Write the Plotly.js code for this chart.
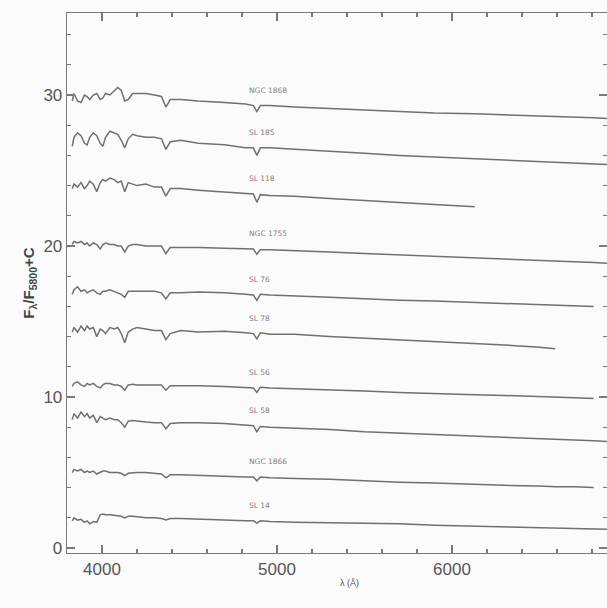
<!DOCTYPE html>
<html>
<head>
<meta charset="utf-8">
<script src="https://cdn.plot.ly/plotly-3.0.1.min.js"></script>
<style>html,body{margin:0;padding:0;background:#fbfbfb;}#chart{width:607px;height:608px;}</style>
</head>
<body>
<div id="chart"></div>
<script>
// Wavelength grid (Angstrom) shared by all spectra
const wavelength = [3830, 3840, 3860, 3880, 3900, 3915, 3930, 3950, 3970, 3990, 4005, 4020, 4045, 4070, 4090, 4110, 4130, 4150, 4175, 4200, 4250, 4300, 4340, 4365, 4390, 4450, 4550, 4700, 4820, 4865, 4885, 4905, 4960, 5100, 5300, 5500, 5700, 5900, 6130, 6300, 6500, 6590, 6700, 6810, 6886];

const clusterNames = ["NGC 1868", "SL 185", "SL 118", "NGC 1755", "SL 76", "SL 78", "SL 56", "SL 58", "NGC 1866", "SL 14"];

const fluxNGC1868 = [29.6, 30.1, 29.6, 29.5, 30.0, 29.9, 29.7, 30.0, 30.1, 29.7, 29.8, 30.1, 30.0, 30.3, 30.5, 30.3, 29.6, 29.7, 30.1, 30.1, 30.1, 30.0, 29.9, 29.2, 29.7, 29.7, 29.6, 29.5, 29.4, 29.3, 28.9, 29.3, 29.3, 29.2, 29.1, 29.0, 28.9, 28.8, 28.75, 28.7, 28.6, 28.6, 28.55, 28.5, 28.45];
const fluxSL185 = [26.6, 27.2, 27.5, 27.3, 26.8, 26.7, 27.2, 27.5, 27.3, 26.8, 26.6, 27.2, 27.6, 27.5, 27.4, 27.0, 26.5, 27.1, 27.4, 27.3, 27.2, 27.2, 27.1, 26.4, 26.9, 27.0, 26.8, 26.7, 26.5, 26.5, 26.0, 26.5, 26.5, 26.4, 26.3, 26.15, 26.0, 25.9, 25.8, 25.7, 25.6, 25.55, 25.5, 25.45, 25.4];
const fluxSL118 = [23.8, 24.1, 23.9, 24.2, 23.8, 24.0, 24.3, 24.1, 23.6, 24.2, 24.4, 24.3, 24.5, 24.4, 24.2, 24.3, 23.6, 24.2, 24.1, 24.0, 24.1, 23.9, 23.9, 23.3, 23.8, 23.8, 23.7, 23.6, 23.5, 23.45, 22.9, 23.4, 23.35, 23.3, 23.15, 23.0, 22.9, 22.75, 22.6, null, null, null, null, null, null];
const fluxNGC1755 = [20.1, 20.3, 20.2, 20.3, 20.1, 20.2, 20.0, 20.2, 20.1, 19.8, 20.1, 20.2, 20.1, 20.1, 20.0, 20.0, 19.6, 20.0, 20.1, 20.1, 20.0, 20.0, 20.0, 19.5, 19.9, 19.9, 19.9, 19.85, 19.8, 19.8, 19.45, 19.75, 19.75, 19.7, 19.6, 19.5, 19.4, 19.3, 19.2, 19.15, 19.05, 19.0, 18.95, 18.9, 18.85];
const fluxSL76 = [16.8, 17.1, 17.3, 17.0, 17.1, 16.9, 17.0, 17.1, 16.9, 16.8, 17.0, 17.0, 17.1, 17.0, 16.9, 16.8, 16.6, 17.0, 17.0, 17.0, 17.0, 17.0, 16.9, 16.5, 16.9, 16.9, 16.95, 16.9, 16.8, 16.75, 16.4, 16.8, 16.75, 16.7, 16.6, 16.5, 16.4, 16.35, 16.25, 16.2, 16.1, 16.1, 16.05, 16.0, null];
const fluxSL78 = [14.3, 14.6, 14.3, 14.7, 14.4, 14.7, 14.5, 14.6, 14.0, 14.5, 14.4, 14.2, 14.6, 14.5, 14.6, 14.2, 13.6, 14.3, 14.5, 14.6, 14.5, 14.4, 14.4, 13.8, 14.2, 14.4, 14.3, 14.35, 14.25, 14.2, 13.85, 14.25, 14.15, 14.15, 14.0, 13.9, 13.75, 13.7, 13.55, 13.45, 13.3, 13.2, null, null, null];
const fluxSL56 = [10.7, 10.9, 11.0, 10.8, 10.7, 10.9, 10.8, 10.9, 10.7, 10.6, 10.8, 10.9, 10.9, 10.8, 10.8, 10.7, 10.45, 10.8, 10.85, 10.8, 10.8, 10.8, 10.8, 10.45, 10.75, 10.75, 10.75, 10.7, 10.65, 10.6, 10.3, 10.65, 10.6, 10.55, 10.5, 10.4, 10.3, 10.25, 10.15, 10.1, 10.0, 10.0, 9.95, 9.9, null];
const fluxSL58 = [8.5, 8.9, 8.6, 9.0, 8.7, 8.9, 8.6, 8.8, 8.3, 8.7, 8.6, 8.5, 8.6, 8.5, 8.5, 8.3, 8.0, 8.4, 8.45, 8.4, 8.35, 8.3, 8.3, 7.9, 8.25, 8.3, 8.3, 8.25, 8.15, 8.1, 7.7, 8.05, 8.0, 7.95, 7.85, 7.7, 7.6, 7.5, 7.4, 7.3, 7.25, 7.2, 7.15, 7.1, 7.05];
const fluxNGC1866 = [5.0, 5.2, 5.1, 5.2, 5.0, 5.1, 5.0, 5.1, 4.9, 5.0, 5.1, 5.1, 5.0, 5.0, 5.0, 4.95, 4.8, 4.95, 5.0, 5.0, 5.0, 4.95, 4.9, 4.65, 4.85, 4.85, 4.8, 4.75, 4.7, 4.7, 4.45, 4.7, 4.65, 4.6, 4.55, 4.45, 4.35, 4.3, 4.2, 4.15, 4.1, 4.05, 4.05, 4.0, null];
const fluxSL14 = [1.8, 2.0, 1.85, 1.9, 1.7, 1.8, 1.6, 1.75, 1.7, 2.2, 2.25, 2.2, 2.2, 2.15, 2.1, 2.1, 2.0, 2.1, 2.1, 2.05, 2.0, 2.0, 1.95, 1.85, 1.95, 1.95, 1.9, 1.85, 1.8, 1.8, 1.65, 1.8, 1.75, 1.7, 1.65, 1.6, 1.6, 1.5, 1.45, 1.4, 1.35, 1.35, 1.3, 1.3, 1.25];

const xTickValues = [4000, 5000, 6000];
const yTickValues = [0, 10, 20, 30];

const allFlux = [fluxNGC1868, fluxSL185, fluxSL118, fluxNGC1755, fluxSL76, fluxSL78, fluxSL56, fluxSL58, fluxNGC1866, fluxSL14];

const lineColor = '#707070';
const axisColor = '#7a7a7a';
const textColor = '#555555';
const labelWl = 4831;
const labelIdx = wavelength.indexOf(4865);

const traces = allFlux.map((f, i) => ({
  type: 'scatter', mode: 'lines', x: wavelength, y: f, name: clusterNames[i],
  line: {color: lineColor, width: 1.5}, connectgaps: false, hoverinfo: 'skip', showlegend: false
}));

const annotations = allFlux.map((f, i) => ({
  x: labelWl, y: f[labelIdx] + 0.6, xref: 'x', yref: 'y', text: clusterNames[i],
  showarrow: false, xanchor: 'left', yanchor: 'bottom',
  font: {family: 'DejaVu Sans, sans-serif', size: 7.5, color: '#808080'}
}));

// x-axis title, placed below the tick labels (paper coords are relative to the plot area)
annotations.push({
  x: 0.524, y: -0.056, xref: 'paper', yref: 'paper', yanchor: 'middle', xanchor: 'center',
  text: 'λ (Å)', showarrow: false,
  font: {family: 'Liberation Sans, Arial, sans-serif', size: 9, color: textColor}
});

const layout = {
  width: 607, height: 608,
  margin: {l: 67, r: 0, t: 13, b: 55},
  paper_bgcolor: '#fbfbfb', plot_bgcolor: '#fbfbfb',
  showlegend: false,
  xaxis: {
    range: [3800, 6886], tickvals: xTickValues, ticktext: xTickValues.map(String),
    ticks: 'inside', ticklen: 8, tickwidth: 1.2, tickcolor: axisColor,
    showline: true, linecolor: axisColor, linewidth: 1.3, mirror: 'ticks',
    showgrid: false, zeroline: false, automargin: false,
    minor: {dtick: 200, tick0: 0, ticks: 'inside', ticklen: 4, tickcolor: axisColor, showgrid: false},
    tickfont: {family: 'Liberation Sans, Arial, sans-serif', size: 17, color: textColor}
  },
  yaxis: {
    range: [-0.33, 35.43], tickvals: yTickValues, ticktext: yTickValues.map(String),
    ticks: 'inside', ticklen: 8, tickwidth: 1.2, tickcolor: axisColor,
    showline: true, linecolor: axisColor, linewidth: 1.3, mirror: 'ticks',
    showgrid: false, zeroline: false, automargin: false,
    minor: {dtick: 2, tick0: 0, ticks: 'inside', ticklen: 4, tickcolor: axisColor, showgrid: false},
    tickfont: {family: 'Liberation Sans, Arial, sans-serif', size: 17, color: textColor},
    title: {text: 'F<sub>λ</sub>/F<sub>5800</sub>+C', standoff: 5, font: {family: 'Liberation Sans, Arial, sans-serif', size: 15, color: '#444', weight: 'bold'}}
  },
  annotations: annotations
};

Plotly.newPlot('chart', traces, layout, {displayModeBar: false, staticPlot: true});
</script>
</body>
</html>
